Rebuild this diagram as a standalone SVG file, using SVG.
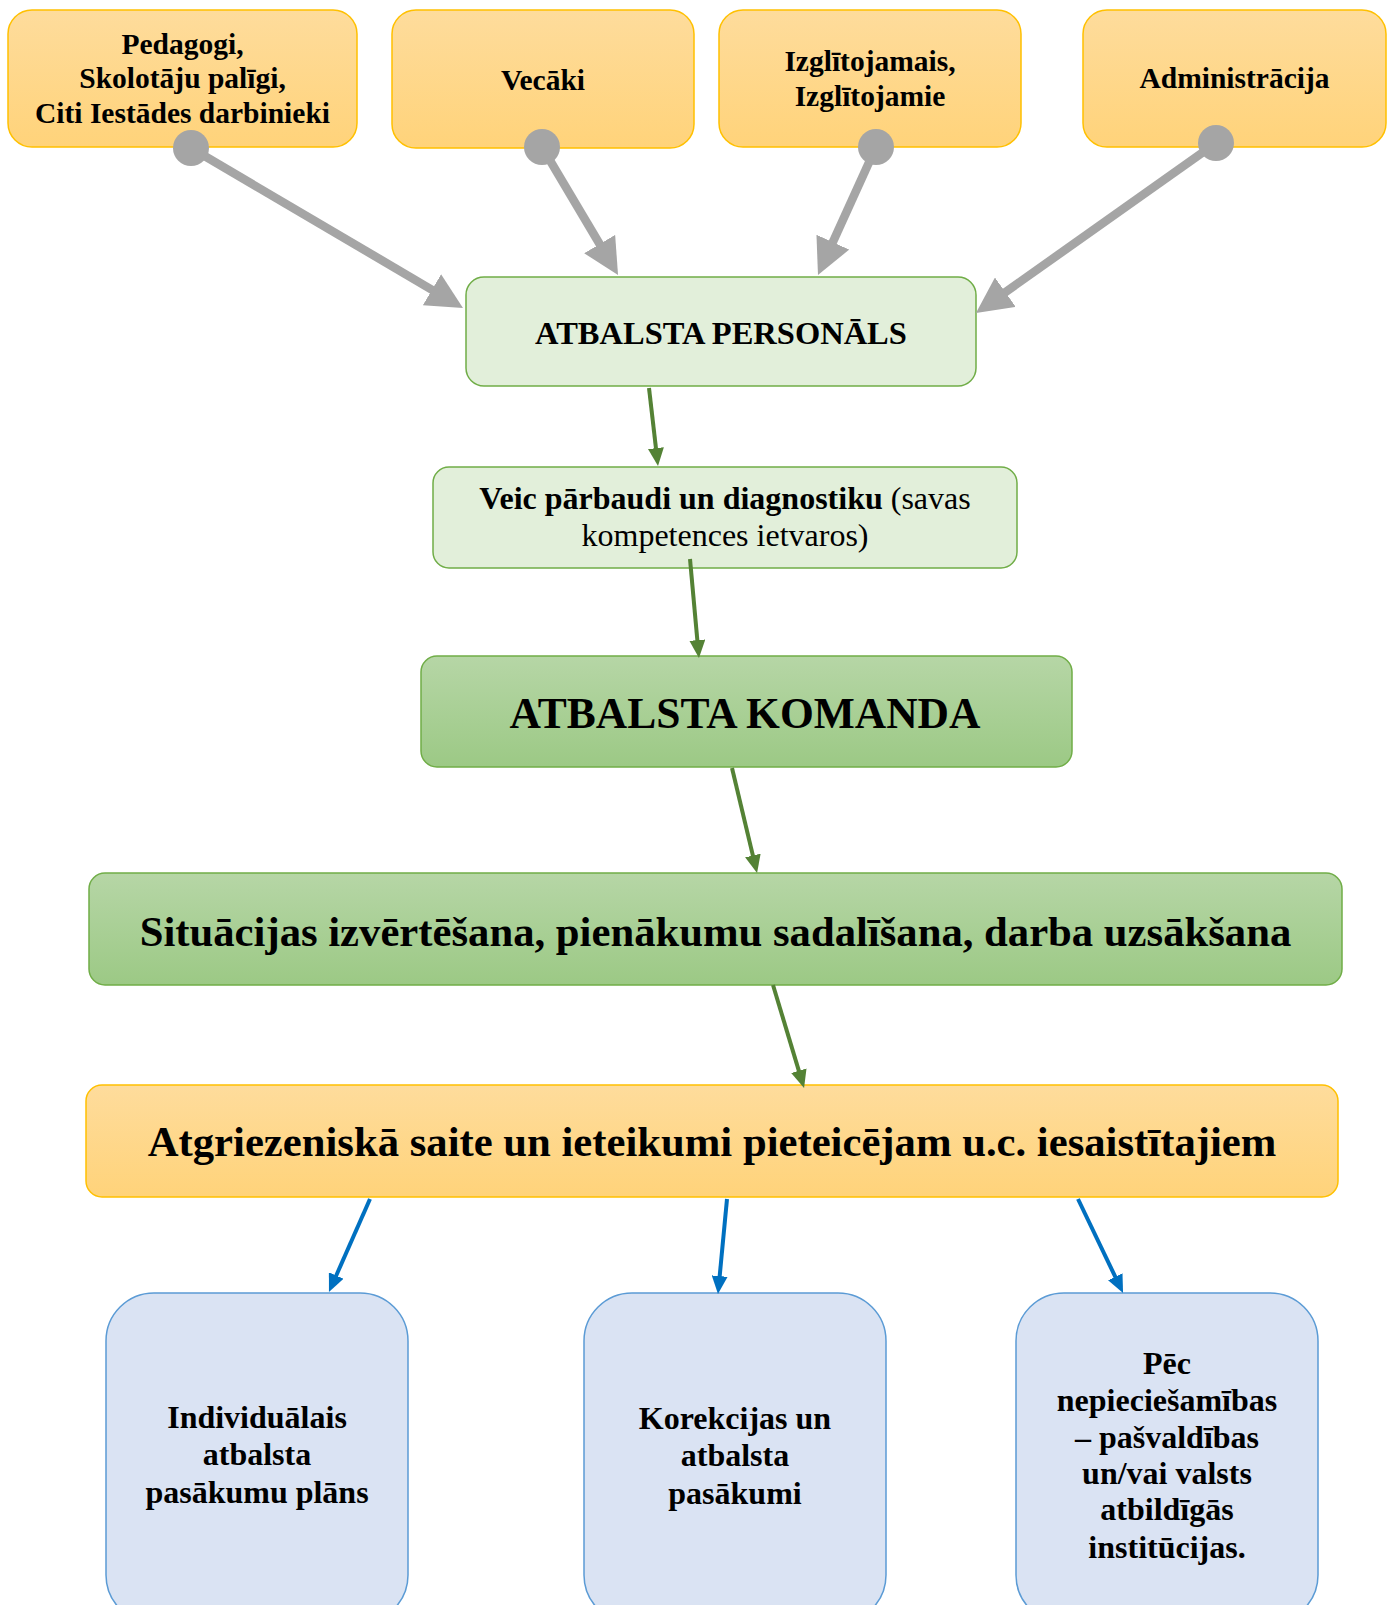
<svg xmlns="http://www.w3.org/2000/svg" width="1392" height="1605" viewBox="0 0 1392 1605">
  <defs>
    <linearGradient id="gOrange" x1="0" y1="0" x2="0" y2="1">
      <stop offset="0" stop-color="#fedc9c"/>
      <stop offset="1" stop-color="#ffd37a"/>
    </linearGradient>
    <linearGradient id="gGreen" x1="0" y1="0" x2="0" y2="1">
      <stop offset="0" stop-color="#b6d6a6"/>
      <stop offset="1" stop-color="#9cc985"/>
    </linearGradient>
    <marker id="mGray" markerUnits="userSpaceOnUse" markerWidth="36" markerHeight="36" refX="4" refY="18" orient="auto">
      <path d="M0,0 L36,18 L0,36 z" fill="#a5a5a5"/>
    </marker>
    <marker id="mGreen" markerUnits="userSpaceOnUse" markerWidth="18" markerHeight="16" refX="4" refY="8" orient="auto">
      <path d="M0,0 L18,8 L0,16 z" fill="#548235"/>
    </marker>
    <marker id="mBlue" markerUnits="userSpaceOnUse" markerWidth="18" markerHeight="16" refX="4" refY="8" orient="auto">
      <path d="M0,0 L18,8 L0,16 z" fill="#0070c0"/>
    </marker>
  </defs>
  <style>
    text { font-family: "Liberation Serif", "Times New Roman", serif; fill: #000; text-anchor: middle; }
    .b { font-weight: bold; }
    .orange { fill: url(#gOrange); stroke: #ffc000; stroke-width: 1.5; }
    .lgreen { fill: #e2efda; stroke: #70ad47; stroke-width: 1.5; }
    .dgreen { fill: url(#gGreen); stroke: #70ad47; stroke-width: 1.5; }
    .blue { fill: #dae3f3; stroke: #5b9bd5; stroke-width: 1.5; }
    .gray { stroke: #a5a5a5; stroke-width: 8.5; fill: none; marker-end: url(#mGray); }
    .green { stroke: #548235; stroke-width: 4; fill: none; marker-end: url(#mGreen); }
    .bl { stroke: #0070c0; stroke-width: 4; fill: none; marker-end: url(#mBlue); }
    .dot { fill: #a5a5a5; }
    .t29 { font-size: 29.5px; }
    .t32 { font-size: 32px; }
    .tp { font-size: 32.5px; }
    .tk { font-size: 43.5px; }
    .t42 { font-size: 42.7px; }
  </style>

  <g id="n-pedagogi">
    <rect class="orange" x="8" y="10" width="349" height="137" rx="24"/>
    <text class="b t29" x="182.5" y="54">Pedagogi,</text>
    <text class="b t29" x="182.5" y="88">Skolotāju palīgi,</text>
    <text class="b t29" x="182.5" y="123">Citi Iestādes darbinieki</text>
  </g>
  <g id="n-vecaki">
    <rect class="orange" x="392" y="10" width="302" height="138" rx="24"/>
    <text class="b t29" x="543" y="90">Vecāki</text>
  </g>
  <g id="n-izglitojamie">
    <rect class="orange" x="719" y="10" width="302" height="137" rx="24"/>
    <text class="b t29" x="870" y="71">Izglītojamais,</text>
    <text class="b t29" x="870" y="106">Izglītojamie</text>
  </g>
  <g id="n-administracija">
    <rect class="orange" x="1083" y="10" width="303" height="137" rx="24"/>
    <text class="b t29" x="1234.5" y="88">Administrācija</text>
  </g>
  <g id="n-personals">
    <rect class="lgreen" x="466" y="277" width="510" height="109" rx="18"/>
    <text class="b tp" x="721" y="344">ATBALSTA PERSONĀLS</text>
  </g>
  <g id="n-veic">
    <rect class="lgreen" x="433" y="467" width="584" height="101" rx="16"/>
    <text class="t32" x="725" y="509"><tspan class="b">Veic pārbaudi un diagnostiku</tspan> (savas</text>
    <text class="t32" x="725" y="546">kompetences ietvaros)</text>
  </g>
  <g id="n-komanda">
    <rect class="dgreen" x="421" y="656" width="651" height="111" rx="16"/>
    <text class="b tk" x="745" y="728">ATBALSTA KOMANDA</text>
  </g>
  <g id="n-situacijas">
    <rect class="dgreen" x="89" y="873" width="1253" height="112" rx="16"/>
    <text class="b t42" x="715.5" y="946">Situācijas izvērtēšana, pienākumu sadalīšana, darba uzsākšana</text>
  </g>
  <g id="n-atgriezeniska">
    <rect class="orange" x="86" y="1085" width="1252" height="112" rx="16"/>
    <text class="b t42" x="712" y="1156">Atgriezeniskā saite un ieteikumi pieteicējam u.c. iesaistītajiem</text>
  </g>
  <g id="n-plans">
    <rect class="blue" x="106" y="1293" width="302" height="330" rx="48"/>
    <text class="b t32" x="257" y="1428">Individuālais</text>
    <text class="b t32" x="257" y="1465">atbalsta</text>
    <text class="b t32" x="257" y="1503">pasākumu plāns</text>
  </g>
  <g id="n-korekcijas">
    <rect class="blue" x="584" y="1293" width="302" height="330" rx="48"/>
    <text class="b t32" x="735" y="1429">Korekcijas un</text>
    <text class="b t32" x="735" y="1466">atbalsta</text>
    <text class="b t32" x="735" y="1504">pasākumi</text>
  </g>
  <g id="n-institucijas">
    <rect class="blue" x="1016" y="1293" width="302" height="330" rx="48"/>
    <text class="b t32" x="1167" y="1374">Pēc</text>
    <text class="b t32" x="1167" y="1411">nepiecie&#353;amības</text>
    <text class="b t32" x="1167" y="1448">– pašvaldības</text>
    <text class="b t32" x="1167" y="1484">un/vai valsts</text>
    <text class="b t32" x="1167" y="1520">atbildīgās</text>
    <text class="b t32" x="1167" y="1558">institūcijas.</text>
  </g>

  <g id="connectors">
    <line class="gray" x1="191" y1="148" x2="435.4" y2="291.8"/>
    <circle class="dot" cx="191" cy="148" r="18"/>
    <line class="gray" x1="542" y1="147" x2="601.7" y2="247.5"/>
    <circle class="dot" cx="542" cy="147" r="18"/>
    <line class="gray" x1="876" y1="147" x2="831.2" y2="245.8"/>
    <circle class="dot" cx="876" cy="147" r="18"/>
    <line class="gray" x1="1216" y1="143" x2="1002.1" y2="294.5"/>
    <circle class="dot" cx="1216" cy="143" r="18"/>
    <line class="green" x1="649" y1="388" x2="656.4" y2="452.1"/>
    <line class="green" x1="690" y1="559" x2="697.7" y2="644.1"/>
    <line class="green" x1="732" y1="768" x2="753.8" y2="859.4"/>
    <line class="green" x1="773" y1="985" x2="800" y2="1074.6"/>
    <line class="bl" x1="370" y1="1199" x2="334.6" y2="1279.2"/>
    <line class="bl" x1="727" y1="1199" x2="719.3" y2="1280.1"/>
    <line class="bl" x1="1078" y1="1199" x2="1117" y2="1280.4"/>
  </g>
</svg>
